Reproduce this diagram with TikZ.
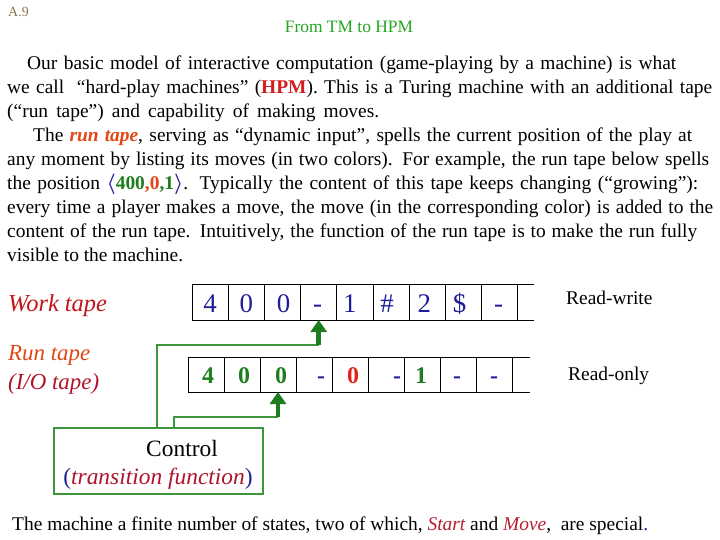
\documentclass[tikz,border=0pt]{standalone}
\usepackage{amsmath}
\usepackage{fontspec}
\setmainfont{Liberation Serif}
\usetikzlibrary{arrows.meta,calc}
\definecolor{ttlgreen}{RGB}{34,165,34}
\definecolor{brn}{RGB}{140,115,80}
\definecolor{hpmred}{RGB}{210,30,30}
\definecolor{runorange}{RGB}{225,70,20}
\definecolor{navy}{RGB}{30,30,150}
\definecolor{dgreen}{RGB}{30,125,30}
\definecolor{lgreen}{RGB}{60,150,60}
\definecolor{zred}{RGB}{225,35,25}
\definecolor{wred}{RGB}{195,20,25}
\definecolor{iored}{RGB}{175,20,40}
\definecolor{smred}{RGB}{180,30,45}
\newcommand{\bodyline}[2]{\makebox[#1bp][s]{#2}}
\tikzset{
  txt/.style={anchor=base west, inner sep=0pt, font=\fontsize{19.5}{24}\selectfont},
  wcell/.style={draw=black, line width=1pt, minimum width=36.2bp, minimum height=36bp, inner sep=0pt, outer sep=0pt, anchor=west},
  rcell/.style={draw=black, line width=1pt, minimum width=36bp, minimum height=35bp, inner sep=0pt, outer sep=0pt, anchor=west},
  wsym/.style={anchor=base, inner sep=0pt, text=navy, font=\fontsize{27}{30}\selectfont},
  rsym/.style={anchor=base, inner sep=0pt, font=\fontsize{24}{28}\selectfont\bfseries},
  conn/.style={draw=lgreen, line width=1.3pt},
  headarrow/.style={draw=dgreen, line width=4.5pt, -{Triangle[width=16bp,length=12bp]}},
}
\begin{document}
\begin{tikzpicture}[x=1bp,y=-1bp]
\useasboundingbox (0,0) rectangle (720,540);
\node[anchor=base west, inner sep=0pt, text=brn, font=\fontsize{14}{15}\selectfont] (pg) at (8,17) {A.9};
\node[anchor=base, inner sep=0pt, text=ttlgreen, font=\fontsize{17.5}{20}\selectfont] (title) at (349,33) {From TM to HPM};
% body text
\node[txt] (l1) at (27,70) {\bodyline{649}{Our basic model of interactive computation (game-playing by a machine) is what}};
\node[txt] (l2) at (7,94) {\bodyline{705}{we call \ “hard-play machines” ({\bfseries\color{hpmred}HPM}). This is a Turing machine with an additional tape}};
\node[txt] (l3) at (7,118) {\bodyline{372}{(“run tape”) and capability of making moves.}};
\node[txt] (l4) at (33,142) {\bodyline{659}{The {\bfseries\itshape\color{runorange}run tape}, serving as “dynamic input”, spells the current position of the play at}};
\node[txt] (l5) at (7,166) {\bodyline{702}{any moment by listing its moves (in two colors). For example, the run tape below spells}};
\node[txt] (l6) at (7,190) {\bodyline{691}{the position {\color{navy}$\boldsymbol{\langle}$}{\bfseries\color{dgreen}400}{\bfseries\color{runorange},0}{\bfseries\color{dgreen},1}{\color{navy}$\boldsymbol{\rangle}$}. Typically the content of this tape keeps changing (“growing”):}};
\node[txt] (l7) at (7,214) {\bodyline{706}{every time a player makes a move, the move (in the corresponding color) is added to the}};
\node[txt] (l8) at (7,238) {\bodyline{690}{content of the run tape. Intuitively, the function of the run tape is to make the run fully}};
\node[txt] (l9) at (7,262) {visible to the machine.};
% labels
\node[anchor=base west, inner sep=0pt, text=wred, font=\fontsize{24.5}{26}\selectfont\itshape] (wlab) at (8,311) {Work tape};
\node[anchor=base west, inner sep=0pt, text=runorange, font=\fontsize{23}{26}\selectfont\itshape] (rlab1) at (8,360) {Run tape};
\node[anchor=base west, inner sep=0pt, text=iored, font=\fontsize{23}{26}\selectfont\itshape] (rlab2) at (8,389) {(I/O tape)};
\node[anchor=base west, inner sep=0pt, font=\fontsize{19.5}{22}\selectfont] (rw) at (566,304) {Read-write};
\node[anchor=base west, inner sep=0pt, font=\fontsize{19.5}{22}\selectfont] (ro) at (568,380) {Read-only};
% work tape
\node[wcell] (w1) at (192,302) {};
\node[wcell] (w2) at (w1.east) {};
\node[wcell] (w3) at (w2.east) {};
\node[wcell] (w4) at (w3.east) {};
\node[wcell] (w5) at (w4.east) {};
\node[wcell] (w6) at (w5.east) {};
\node[wcell] (w7) at (w6.east) {};
\node[wcell] (w8) at (w7.east) {};
\node[wcell] (w9) at (w8.east) {};
\coordinate (wend) at ($(w9.east)+(16,0)$);
\draw[line width=1pt] (w9.north east) -- (w9.north east -| wend) (w9.south east) -- (w9.south east -| wend);
\node[wsym] (ws1) at ($(w1)+(0,10)$) {4};
\node[wsym] (ws2) at ($(w2)+(0,10)$) {0};
\node[wsym] (ws3) at ($(w3)+(1,10)$) {0};
\node[wsym] (ws4) at ($(w4)+(-1,10)$) {-};
\node[wsym] (ws5) at ($(w5)+(-5,10)$) {1};
\node[wsym] (ws6) at ($(w6)+(-4,10)$) {\#};
\node[wsym] (ws7) at ($(w7)+(-3,10)$) {2};
\node[wsym] (ws8) at ($(w8)+(-4,10)$) {\$};
\node[wsym] (ws9) at ($(w9)+(-1,10)$) {-};
% run tape
\node[rcell] (r1) at (188,374.5) {};
\node[rcell] (r2) at (r1.east) {};
\node[rcell] (r3) at (r2.east) {};
\node[rcell] (r4) at (r3.east) {};
\node[rcell] (r5) at (r4.east) {};
\node[rcell] (r6) at (r5.east) {};
\node[rcell] (r7) at (r6.east) {};
\node[rcell] (r8) at (r7.east) {};
\node[rcell] (r9) at (r8.east) {};
\coordinate (rend) at ($(r9.east)+(18,0)$);
\draw[line width=1pt] (r9.north east) -- (r9.north east -| rend) (r9.south east) -- (r9.south east -| rend);
\node[rsym, text=dgreen] (rs1) at ($(r1)+(2,8.5)$) {4};
\node[rsym, text=dgreen] (rs2) at ($(r2)+(2,8.5)$) {0};
\node[rsym, text=dgreen] (rs3) at ($(r3)+(3,8.5)$) {0};
\node[rsym, text=navy] (rs4) at ($(r4)+(7,8.5)$) {-};
\node[rsym, text=zred] (rs5) at ($(r5)+(3,8.5)$) {0};
\node[rsym, text=navy] (rs6) at ($(r6)+(11,8.5)$) {-};
\node[rsym, text=dgreen] (rs7) at ($(r7)+(-1,8.5)$) {1};
\node[rsym, text=navy] (rs8) at ($(r8)+(-1,8.5)$) {-};
\node[rsym, text=navy] (rs9) at ($(r9)+(0,8.5)$) {-};
% control
\node[draw=lgreen, line width=1.2pt, minimum width=209bp, minimum height=66bp, inner sep=0pt, outer sep=0pt] (ctrl) at (158.5,461) {};
\node[anchor=base, inner sep=0pt, font=\fontsize{23.5}{26}\selectfont] (ctrlt) at (182,456) {Control};
\node[anchor=base, inner sep=0pt, font=\fontsize{23.5}{26}\selectfont] (ctrlf) at (158,484) {{\color{navy}(}{\itshape\color{iored}transition function}{\color{navy})}};
% connectors
\coordinate (wa) at ($(ctrl.north west)+(103,0)$);
\coordinate (ra) at ($(ctrl.north west)+(120,0)$);
\coordinate (wbase) at ($(w4.south)+(0,25)$);
\coordinate (rbase) at ($(r3.south)+(0,25)$);
\draw[conn] (wa) |- (wbase);
\draw[conn] (ra) |- (rbase);
\draw[headarrow] (wbase) -- (w4.south);
\draw[headarrow] (rbase) -- (r3.south);
% bottom
\node[anchor=base west, inner sep=0pt, font=\fontsize{19.5}{22}\selectfont] (bot) at (12,530) {The machine a finite number of states, two of which, {\itshape\color{smred}Start} and {\itshape\color{smred}Move}, \ are special{\color{navy}.}};
\end{tikzpicture}
\end{document}
